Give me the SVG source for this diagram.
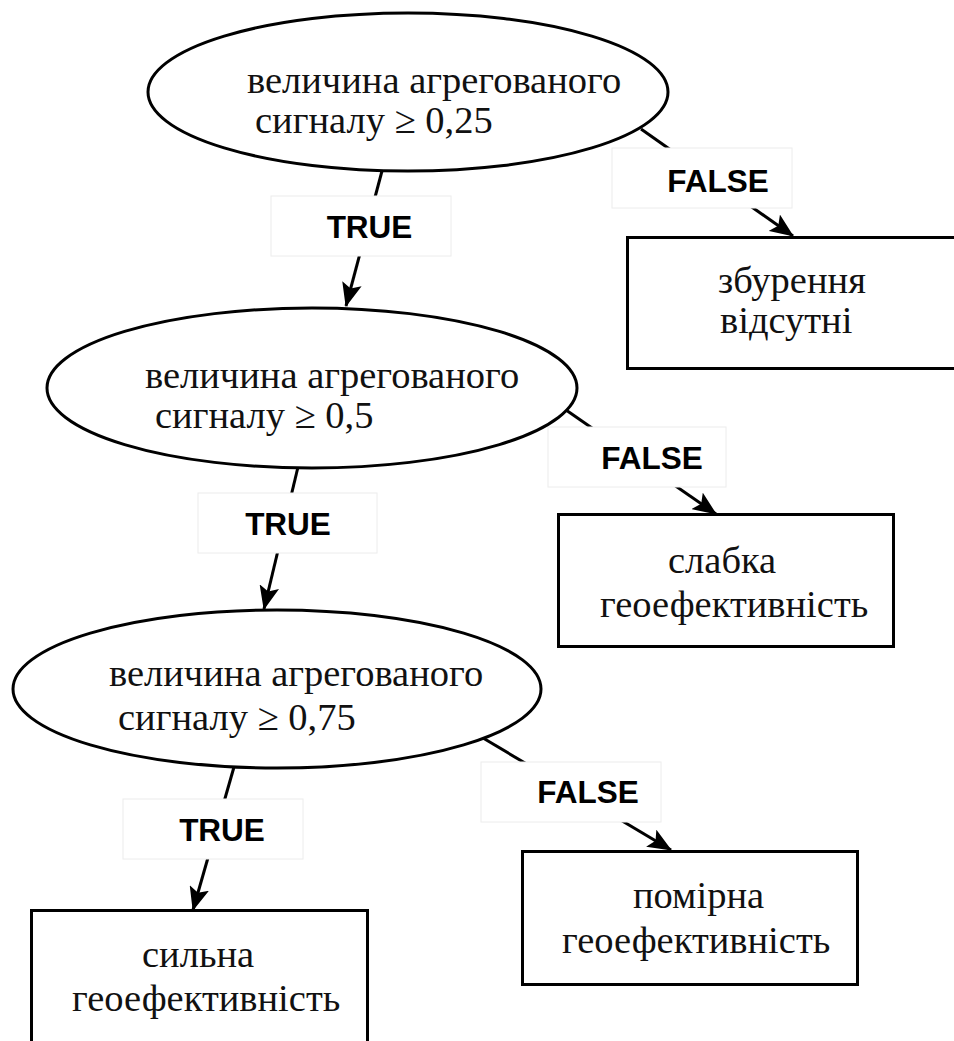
<svg xmlns="http://www.w3.org/2000/svg" width="954" height="1041" viewBox="0 0 954 1041">
  <style>
    .shape { fill: #ffffff; stroke: #000000; stroke-width: 3; }
    .node-text { font-family: "Liberation Serif", "Times New Roman", serif; font-size: 38.5px; fill: #111111; }
    .edge { stroke: #000000; stroke-width: 3; fill: none; marker-end: url(#arrow); }
    .label-box { fill: #ffffff; stroke: #ececec; stroke-width: 1; }
    .label-text { font-family: "Liberation Sans", Arial, sans-serif; font-weight: bold; font-size: 31.5px; fill: #000000; text-anchor: middle; }
  </style>
  <defs>
    <marker id="arrow" viewBox="0 0 24 20" refX="23" refY="10" markerWidth="24" markerHeight="20" markerUnits="userSpaceOnUse" orient="auto">
      <path d="M0,0 L24,10 L0,20 L5,10 Z" fill="#000000"/>
    </marker>
  </defs>
  <rect width="954" height="1041" fill="#ffffff"/>

  <!-- connectors; each label box sits over the middle of its line -->
  <g id="connectors">
    <line class="edge" x1="382" y1="171" x2="346" y2="306"/>
    <line class="edge" x1="641" y1="129" x2="793" y2="236"/>
    <line class="edge" x1="298" y1="467" x2="264" y2="609"/>
    <line class="edge" x1="566" y1="410" x2="716" y2="514"/>
    <line class="edge" x1="234" y1="767" x2="193" y2="910"/>
    <line class="edge" x1="483" y1="738" x2="671" y2="850"/>

    <rect class="label-box" x="271" y="196" width="180" height="60"/>
    <text class="label-text" x="369.5" y="238">TRUE</text>
    <rect class="label-box" x="612" y="148" width="180" height="60"/>
    <text class="label-text" x="718" y="192">FALSE</text>
    <rect class="label-box" x="198" y="493" width="179" height="60"/>
    <text class="label-text" x="288" y="535">TRUE</text>
    <rect class="label-box" x="548" y="427" width="178" height="60"/>
    <text class="label-text" x="652" y="469">FALSE</text>
    <rect class="label-box" x="123" y="799" width="180" height="60"/>
    <text class="label-text" x="222" y="841">TRUE</text>
    <rect class="label-box" x="481" y="762" width="180" height="60"/>
    <text class="label-text" x="588" y="803">FALSE</text>
  </g>

  <!-- decision: threshold 0.25 -->
  <g id="node-cond-025">
    <ellipse class="shape" cx="408" cy="92" rx="260" ry="79"/>
    <text class="node-text" x="247" y="93">величина агрегованого</text>
    <text class="node-text" x="255" y="133">сигналу ≥ 0,25</text>
  </g>

  <!-- outcome: no disturbance -->
  <g id="node-none">
    <rect class="shape" x="627.5" y="237.5" width="340" height="131"/>
    <text class="node-text" x="718" y="293">збурення</text>
    <text class="node-text" x="720" y="333">відсутні</text>
  </g>

  <!-- decision: threshold 0.5 -->
  <g id="node-cond-05">
    <ellipse class="shape" cx="312" cy="388" rx="265" ry="80"/>
    <text class="node-text" x="145" y="388">величина агрегованого</text>
    <text class="node-text" x="155" y="428">сигналу ≥ 0,5</text>
  </g>

  <!-- outcome: weak geoeffectiveness -->
  <g id="node-weak">
    <rect class="shape" x="558.5" y="514.5" width="335" height="132"/>
    <text class="node-text" x="668" y="573">слабка</text>
    <text class="node-text" x="600" y="617">геоефективність</text>
  </g>

  <!-- decision: threshold 0.75 -->
  <g id="node-cond-075">
    <ellipse class="shape" cx="277" cy="689" rx="264" ry="79"/>
    <text class="node-text" x="109" y="686">величина агрегованого</text>
    <text class="node-text" x="118" y="730">сигналу ≥ 0,75</text>
  </g>

  <!-- outcome: moderate geoeffectiveness -->
  <g id="node-moderate">
    <rect class="shape" x="522.5" y="851.5" width="335" height="133"/>
    <text class="node-text" x="633" y="908">помірна</text>
    <text class="node-text" x="562" y="953">геоефективність</text>
  </g>

  <!-- outcome: strong geoeffectiveness -->
  <g id="node-strong">
    <rect class="shape" x="31.5" y="910.5" width="336" height="145"/>
    <text class="node-text" x="142" y="967">сильна</text>
    <text class="node-text" x="72" y="1011">геоефективність</text>
  </g>
</svg>
